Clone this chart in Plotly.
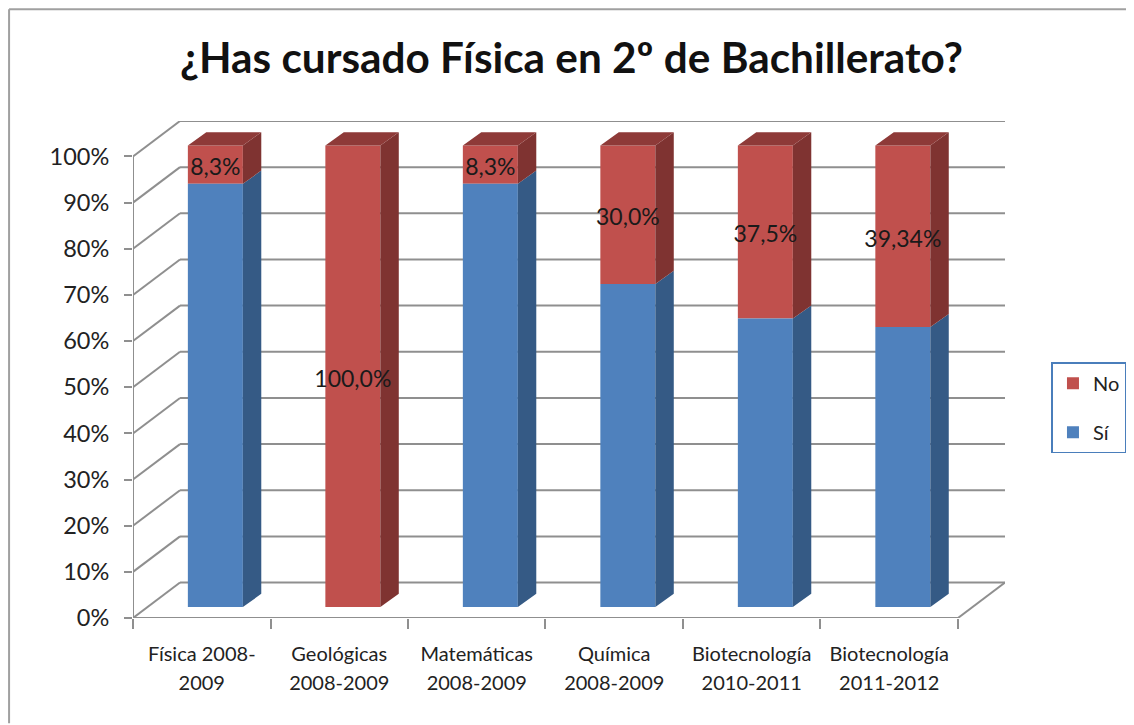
"""Stacked pseudo-3D bars: ¿Has cursado Física en 2º de Bachillerato?"""

import plotly.graph_objects as go

categories_l1 = ["Física 2008-", "Geológicas", "Matemáticas", "Química", "Biotecnología", "Biotecnología"]
categories_l2 = ["2009", "2008-2009", "2008-2009", "2008-2009", "2010-2011", "2011-2012"]
si_values = [91.7, 0.0, 91.7, 70.0, 62.5, 60.66]
no_values = [8.3, 100.0, 8.3, 30.0, 37.5, 39.34]
no_labels = ["8,3%", "100,0%", "8,3%", "30,0%", "37,5%", "39,34%"]
y_ticks = [0, 10, 20, 30, 40, 50, 60, 70, 80, 90, 100]

BLUE, BLUE_SIDE = "#4f81bd", "#355a85"
RED, RED_SIDE, RED_TOP = "#c0504d", "#7f3331", "#8e3a38"
GRID = "#8f8f8f"
FONT = "Lato"

# depth of the fake 3D box, in axis units
WALL_DX, WALL_DY = 0.342, 7.68
FLOOR_DX, FLOOR_DY = 0.099, 2.38
SIDE_DX, SIDE_DY = 0.134, 2.85
BAR_W = 0.4
LABEL_DY = -1.0

# the page body has an 8px margin, so the figure starts at (8, 8)
PAGE_OFFSET = 8
PAGE_W, PAGE_H = 1134, 725
PLOT_L, PLOT_R, PLOT_T, PLOT_B = 133, 1005.5, 120.7, 617.7


def paper_x(px):
    return (px - PLOT_L) / (PLOT_R - PLOT_L)


def paper_y(py):
    return (PLOT_B - py) / (PLOT_B - PLOT_T)


n = len(si_values)
centers = [i + 0.5 + FLOOR_DX for i in range(n)]
bases_si = [FLOOR_DY] * n
bases_no = [FLOOR_DY + v for v in si_values]


def side_faces(bases, heights):
    xs, ys = [], []
    for c, b, h in zip(centers, bases, heights):
        if h <= 0:
            continue
        r = c + BAR_W / 2
        xs += [r, r + SIDE_DX, r + SIDE_DX, r, r, None]
        ys += [b, b + SIDE_DY, b + h + SIDE_DY, b + h, b, None]
    return xs, ys


def top_faces(bases, heights):
    xs, ys = [], []
    for c, b, h in zip(centers, bases, heights):
        l, r, t = c - BAR_W / 2, c + BAR_W / 2, b + h
        xs += [l, r, r + SIDE_DX, l + SIDE_DX, l, None]
        ys += [t, t, t + SIDE_DY, t + SIDE_DY, t, None]
    return xs, ys


fig = go.Figure()

fig.add_trace(go.Bar(name="No", x=centers, y=no_values, base=bases_no, width=BAR_W,
                     marker=dict(color=RED, line=dict(width=0)), legendgroup="no"))
fig.add_trace(go.Bar(name="Sí", x=centers, y=si_values, base=bases_si, width=BAR_W,
                     marker=dict(color=BLUE, line=dict(width=0)), legendgroup="si"))

for (xs, ys), color in [
    (side_faces(bases_si, si_values), BLUE_SIDE),
    (side_faces(bases_no, no_values), RED_SIDE),
    (top_faces(bases_no, no_values), RED_TOP),
]:
    fig.add_trace(go.Scatter(x=xs, y=ys, mode="lines", fill="toself", fillcolor=color,
                             line=dict(width=0), showlegend=False, hoverinfo="skip"))

fig.add_trace(go.Scatter(
    x=centers,
    y=[b + v / 2 + LABEL_DY for b, v in zip(bases_no, no_values)],
    mode="text",
    text=no_labels,
    textposition="middle center",
    textfont=dict(family=FONT, size=23, color="#1a1a1a"),
    showlegend=False,
    hoverinfo="skip",
))

# walls: back gridlines, diagonals on the side wall, floor edge and axes
shapes = []
line = dict(color=GRID, width=2)
for v in y_ticks:
    shapes.append(dict(type="line", x0=WALL_DX, x1=n + WALL_DX, y0=v + WALL_DY, y1=v + WALL_DY,
                       layer="below", line=line))
    shapes.append(dict(type="line", x0=0, x1=WALL_DX, y0=v, y1=v + WALL_DY, layer="below", line=line))
shapes.append(dict(type="line", x0=0, x1=n, y0=0, y1=0, layer="below", line=line))
shapes.append(dict(type="line", x0=0, x1=0, y0=0, y1=100, layer="below", line=line))
shapes.append(dict(type="line", x0=n, x1=n + WALL_DX, y0=0, y1=WALL_DY, layer="below", line=line))
# outer chart frame, only top and left show in the screenshot
frame = dict(color="#a0a0a0", width=2)
shapes.append(dict(type="line", xref="paper", yref="paper", x0=paper_x(9), x1=paper_x(PAGE_W),
                   y0=paper_y(9), y1=paper_y(9), line=frame))
shapes.append(dict(type="line", xref="paper", yref="paper", x0=paper_x(9), x1=paper_x(9),
                   y0=paper_y(723), y1=paper_y(9), line=frame))

fig.update_layout(
    width=PAGE_W - PAGE_OFFSET,
    height=PAGE_H - PAGE_OFFSET,
    margin=dict(l=PLOT_L - PAGE_OFFSET, r=PAGE_W - PLOT_R, t=PLOT_T - PAGE_OFFSET,
                b=PAGE_H - PLOT_B, autoexpand=False),
    paper_bgcolor="white",
    plot_bgcolor="white",
    barmode="overlay",
    font=dict(family=FONT, color="#222222"),
    title=dict(
        text="<b>¿Has cursado Física en 2º de Bachillerato?</b>",
        x=(571.5 - PAGE_OFFSET) / (PAGE_W - PAGE_OFFSET),
        xanchor="center",
        y=1 - (58 - PAGE_OFFSET) / (PAGE_H - PAGE_OFFSET),
        yanchor="middle",
        font=dict(family=FONT, size=42.3, color="#111111"),
    ),
    xaxis=dict(
        range=[0, n + WALL_DX],
        tickmode="array",
        tickvals=[i + 0.5 for i in range(n)],
        ticktext=[f"<span style='font-size:20px'>{a}</span><br><span style='font-size:20px'>{b}</span>"
                  for a, b in zip(categories_l1, categories_l2)],
        tickfont=dict(family=FONT, size=22, color="#222222"),
        ticks="",
        ticklabelstandoff=20,
        showgrid=False,
        zeroline=False,
        showline=False,
        minor=dict(tickmode="array", tickvals=list(range(n + 1)), ticks="outside",
                   ticklen=10, tickwidth=1.5, tickcolor=GRID, showgrid=False),
    ),
    yaxis=dict(
        range=[0, 100 + WALL_DY],
        tickmode="array",
        tickvals=y_ticks,
        ticktext=[f"{v}%" for v in y_ticks],
        tickfont=dict(family=FONT, size=23.5, color="#222222"),
        ticks="outside",
        ticklen=8,
        tickwidth=1.5,
        tickcolor=GRID,
        ticklabelstandoff=10,
        showgrid=False,
        zeroline=False,
        showline=False,
    ),
    legend=dict(
        x=paper_x(1052),
        xanchor="left",
        y=paper_y(362),
        yanchor="top",
        bordercolor="#4a7ebb",
        borderwidth=1.5,
        bgcolor="white",
        tracegroupgap=20,
        itemwidth=30,
        entrywidth=24,
        entrywidthmode="pixels",
        font=dict(family=FONT, size=20, color="#222222"),
        itemclick=False,
    ),
    shapes=shapes,
)

fig.write_html("out.html")
